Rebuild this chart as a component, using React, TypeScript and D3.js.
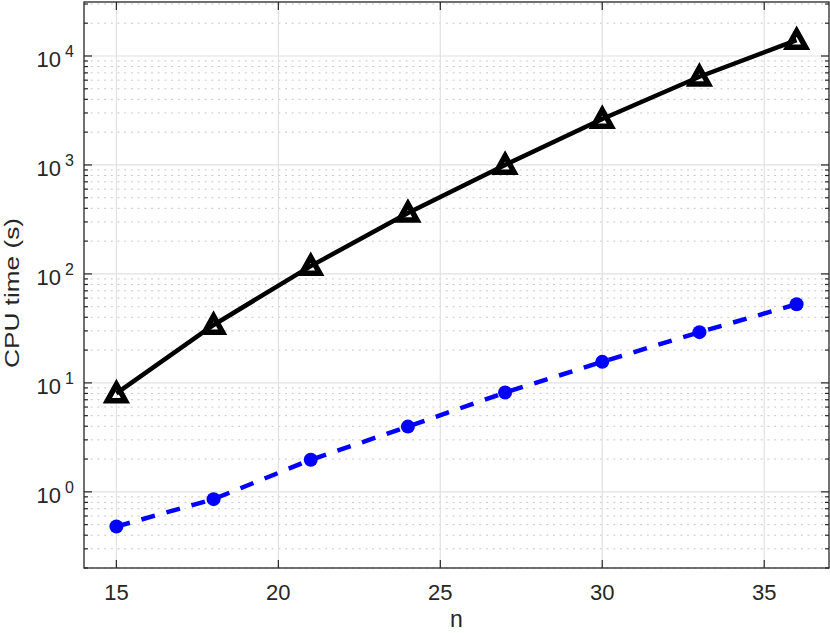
import React, { useEffect } from 'react';
import { scaleLinear, scaleLog, line } from 'd3';

// problem size
const N = [15, 18, 21, 24, 27, 30, 33, 36];
// CPU time, solid black line with triangles
const TIME_A = [8.0, 34, 118, 363, 1000, 2640, 6450, 14000];
// CPU time, dashed blue line with dots
const TIME_B = [0.48, 0.857, 1.97, 3.97, 8.15, 15.6, 29.2, 52.7];

const X_TICKS = [15, 20, 25, 30, 35];
const Y_DECADES = [0, 1, 2, 3, 4];

const W = 830;
const H = 633;
const LEFT = 84;
const RIGHT = 829;
const TOP = 2;
const BOTTOM = 568;
const AXIS = '#262626';
const FONT = '"Liberation Sans", Arial, Helvetica, sans-serif';

export default function App() {
  useEffect(() => {
    document.body.style.margin = '0';
  }, []);

  const x = scaleLinear().domain([14, 37]).range([LEFT, RIGHT]);
  const y = scaleLog().domain([0.2, 31300]).range([BOTTOM, TOP]);

  const minors: number[] = [];
  for (let d = -1; d <= 4; d++) {
    for (let k = 2; k <= 9; k++) {
      const v = k * Math.pow(10, d);
      if (v >= 0.2 && v <= 31300) minors.push(v);
    }
  }

  const pathA = line<number>().x((_, i) => x(N[i])).y(v => y(v))(TIME_A) || '';
  const pathB = line<number>().x((_, i) => x(N[i])).y(v => y(v))(TIME_B) || '';

  const tri = (cx: number, cy: number) => {
    const r = 9;
    return `M${cx},${cy - r}L${cx + r},${cy + r * 0.8}L${cx - r},${cy + r * 0.8}Z`;
  };

  return (
    <svg width={W} height={H} style={{ display: 'block' }} fontFamily={FONT}>
      <rect x={0} y={0} width={W} height={H} fill="white" />
      {/* minor grid */}
      {minors.map(v => (
        <line key={'mg' + v} x1={LEFT} x2={RIGHT} y1={y(v)} y2={y(v)}
          stroke="#c8c8c8" strokeWidth={1} strokeDasharray="2 4.7" />
      ))}
      {/* major grid */}
      {Y_DECADES.map(d => (
        <line key={'yg' + d} x1={LEFT} x2={RIGHT} y1={y(Math.pow(10, d))} y2={y(Math.pow(10, d))}
          stroke="#e1e1e1" strokeWidth={1.2} />
      ))}
      {X_TICKS.map(t => (
        <line key={'xg' + t} x1={x(t)} x2={x(t)} y1={TOP} y2={BOTTOM}
          stroke="#e1e1e1" strokeWidth={1.2} />
      ))}

      {/* ticks */}
      {X_TICKS.map(t => (
        <g key={'xt' + t} stroke={AXIS} strokeWidth={1.2}>
          <line x1={x(t)} x2={x(t)} y1={BOTTOM} y2={BOTTOM - 8} />
          <line x1={x(t)} x2={x(t)} y1={TOP} y2={TOP + 8} />
        </g>
      ))}
      {Y_DECADES.map(d => (
        <g key={'yt' + d} stroke={AXIS} strokeWidth={1.2}>
          <line x1={LEFT} x2={LEFT + 8} y1={y(Math.pow(10, d))} y2={y(Math.pow(10, d))} />
          <line x1={RIGHT} x2={RIGHT - 8} y1={y(Math.pow(10, d))} y2={y(Math.pow(10, d))} />
        </g>
      ))}
      {minors.map(v => (
        <g key={'mt' + v} stroke={AXIS} strokeWidth={1.2}>
          <line x1={LEFT} x2={LEFT + 4} y1={y(v)} y2={y(v)} />
          <line x1={RIGHT} x2={RIGHT - 4} y1={y(v)} y2={y(v)} />
        </g>
      ))}

      {/* box */}
      <rect x={LEFT} y={TOP} width={RIGHT - LEFT} height={BOTTOM - TOP}
        fill="none" stroke={AXIS} strokeWidth={1.3} />

      {/* series */}
      <path d={pathA} fill="none" stroke="black" strokeWidth={4.5} />
      {TIME_A.map((v, i) => (
        <path key={'a' + i} d={tri(x(N[i]), y(v))} fill="none" stroke="black"
          strokeWidth={5.5} strokeLinejoin="miter" />
      ))}
      <path d={pathB} fill="none" stroke="#0000ff" strokeWidth={4.5} strokeDasharray="14 12" />
      {TIME_B.map((v, i) => (
        <circle key={'b' + i} cx={x(N[i])} cy={y(v)} r={7} fill="#0000ff" />
      ))}

      {/* tick labels */}
      {X_TICKS.map(t => (
        <text key={'xl' + t} x={x(t)} y={600} textAnchor="middle" fontSize={22} fill={AXIS}>{t}</text>
      ))}
      {Y_DECADES.map(d => (
        <text key={'yl' + d} x={74} y={y(Math.pow(10, d)) + 11} textAnchor="end" fontSize={22} fill={AXIS}>
          10<tspan dx={4} dy={-10} fontSize={16}>{d}</tspan>
        </text>
      ))}

      {/* axis labels */}
      <text x={(LEFT + RIGHT) / 2} y={627} textAnchor="middle" fontSize={23} fill={AXIS}>n</text>
      <text transform={`translate(19,293) rotate(-90)`} textAnchor="middle" fontSize={20} fill={AXIS}
        textLength={150} lengthAdjust="spacingAndGlyphs">CPU time (s)</text>
    </svg>
  );
}
